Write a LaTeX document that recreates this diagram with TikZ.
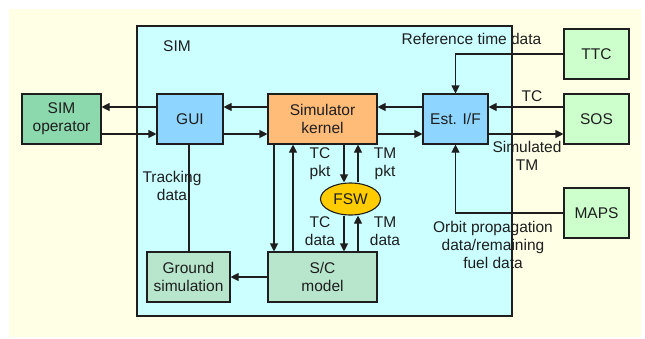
\documentclass[tikz,border=0pt]{standalone}
\usepackage{fontspec}
\setmainfont{Liberation Sans}
\usepackage{tikz}
\usetikzlibrary{arrows.meta,positioning,calc,shapes.geometric}
\definecolor{Cream}{HTML}{FFFFE6}
\definecolor{SimCyan}{HTML}{CCFFFF}
\definecolor{OpGreen}{HTML}{8CD9AE}
\definecolor{PaleGreen}{HTML}{CCFFCC}
\definecolor{MintGreen}{HTML}{B8E6CC}
\definecolor{SkyBlue}{HTML}{8ED5FF}
\definecolor{Peach}{HTML}{FFBB78}
\definecolor{Amber}{HTML}{FFCC00}
\definecolor{Ink}{HTML}{1E1E1E}
\tikzset{
 block/.style={draw=Ink, line width=1.1pt, minimum height=50pt, align=center, inner sep=2pt},
 opblock/.style={block, fill=OpGreen, minimum width=79pt},
 extblock/.style={block, fill=PaleGreen, minimum width=65pt},
 blueblock/.style={block, fill=SkyBlue, minimum width=66pt},
 kernelblock/.style={block, fill=Peach, minimum width=109pt},
 mintblock/.style={block, fill=MintGreen, minimum height=50pt},
 fswnode/.style={ellipse, draw=Ink, line width=1.1pt, fill=Amber, minimum width=60pt, minimum height=32pt, inner sep=0pt},
 lbl/.style={align=center, inner sep=0pt},
 arrow/.style={-{Triangle[length=8pt,width=8pt]}, line width=1.1pt, draw=Ink},
 plainline/.style={line width=1.1pt, draw=Ink}
}
\begin{document}
\begin{tikzpicture}[x=1pt,y=-1pt,font=\fontsize{15.5}{18}\selectfont,text=Ink]
\useasboundingbox (0,0) rectangle (645,338);
\fill[Cream] (9,9) rectangle (641,337);
\node[draw=Ink, line width=1.1pt, fill=SimCyan, minimum width=375pt, minimum height=290pt, inner sep=0pt] (sim) at (324.5,171) {};
\node[lbl] (simlabel) at (177,46) {SIM};
\node[opblock] (simop) at (61.5,119) {SIM\\operator};
\node[blueblock] (gui) at (190,119) {GUI};
\node[kernelblock] (kernel) at (322.5,119) {Simulator\\kernel};
\node[blueblock, minimum width=65pt] (estif) at (455.5,119) {Est. I/F};
\node[extblock] (ttc) at (596.5,54) {TTC};
\node[extblock] (sos) at (596.5,119) {SOS};
\node[extblock] (maps) at (596.5,213) {MAPS};
\node[mintblock, minimum width=83pt] (ground) at (188.5,277) {Ground\\simulation};
\node[mintblock, minimum width=109pt] (scmodel) at (322.5,277) {S/C\\model};
\node[fswnode] (fsw) at (350.5,199) {FSW};

\draw[arrow] ([yshift=12pt]gui.west) -- ([yshift=12pt]simop.east);
\draw[arrow] ([yshift=-15pt]simop.east) -- ([yshift=-15pt]gui.west);
\draw[arrow] ([yshift=12pt]kernel.west) -- ([yshift=12pt]gui.east);
\draw[arrow] ([yshift=-15pt]gui.east) -- ([yshift=-15pt]kernel.west);
\draw[arrow] ([yshift=12pt]estif.west) -- ([yshift=12pt]kernel.east);
\draw[arrow] ([yshift=-15pt]kernel.east) -- ([yshift=-15pt]estif.west);
\draw[arrow] ([yshift=12pt]sos.west) -- ([yshift=12pt]estif.east);
\draw[arrow] ([yshift=-15pt]estif.east) -- ([yshift=-15pt]sos.west);
\draw[arrow] (ttc.west) -| (estif.north);
\draw[arrow] (maps.west) -| (estif.south);
\draw[plainline] ([xshift=-1pt]gui.south) -- ([xshift=-1pt]gui.south |- ground.north);
\draw[arrow] (scmodel.west) -- (ground.east);
\draw[arrow] ([xshift=-48.5pt]kernel.south) -- ([xshift=-48.5pt]scmodel.north);
\draw[arrow] ([xshift=-29.5pt]scmodel.north) -- ([xshift=-29.5pt]kernel.south);
\draw[arrow] ([xshift=21.5pt]kernel.south) -- ([xshift=21.5pt]kernel.south |- fsw.north);
\draw[arrow] ([xshift=35.5pt]kernel.south |- fsw.north) -- ([xshift=35.5pt]kernel.south);
\draw[arrow] ([xshift=21.5pt]scmodel.north |- fsw.south) -- ([xshift=21.5pt]scmodel.north);
\draw[arrow] ([xshift=35.5pt]scmodel.north) -- ([xshift=35.5pt]scmodel.north |- fsw.south);

\node[lbl] (reftime) at (471.5,39) {Reference time data};
\node[lbl] (tclabel) at (532,96) {TC};
\node[lbl] (simtm) at (527,156) {Simulated\\TM};
\node[lbl] (orbit) at (493,245) {Orbit propagation\\data/remaining\\fuel data};
\node[lbl] (tracking) at (172,186) {Tracking\\data};
\node[lbl] (tcpkt) at (320,164) {TC\\pkt};
\node[lbl] (tmpkt) at (385,164) {TM\\pkt};
\node[lbl] (tcdata) at (320,231) {TC\\data};
\node[lbl] (tmdata) at (385,231) {TM\\data};
\end{tikzpicture}
\end{document}
